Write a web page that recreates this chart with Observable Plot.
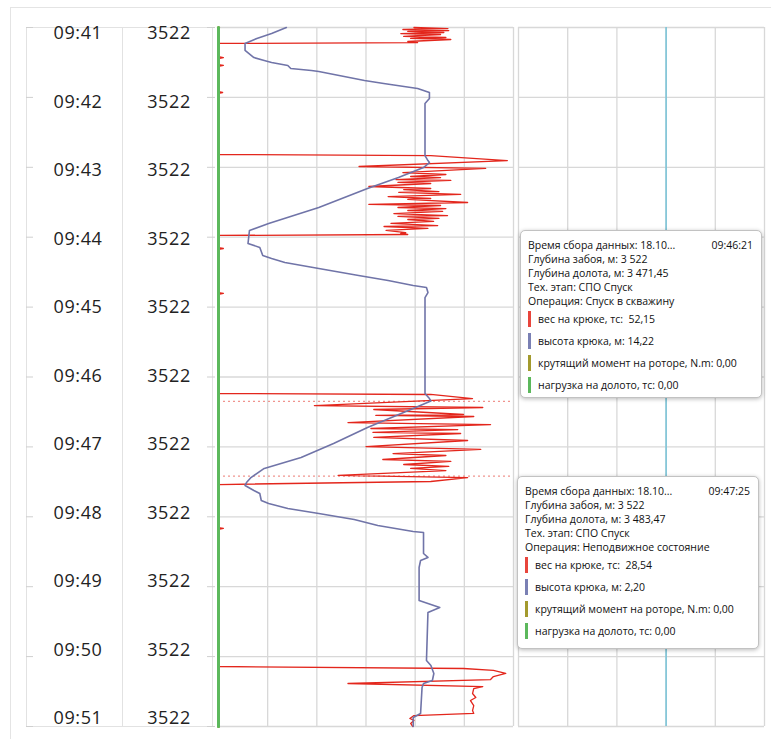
<!DOCTYPE html>
<html>
<head>
<meta charset="utf-8">
<script src="https://cdn.jsdelivr.net/npm/d3@7"></script>
<script src="https://cdn.jsdelivr.net/npm/@observablehq/plot@0.6"></script>
<style>
html,body{margin:0;padding:0;background:#fff;}
#root{position:relative;width:771px;height:739px;overflow:hidden;font-family:"Open Sans",sans-serif;}
.abs{position:absolute;line-height:0;}
.lbl text{letter-spacing:0.6px;}
.card{position:absolute;left:10px;top:7px;width:770px;height:740px;border-left:1px solid #e4e4e4;border-top:1px solid #e4e4e4;}
.col{position:absolute;top:27px;height:700px;border:1px solid #e2e2e2;box-sizing:border-box;}
.tip{position:absolute;background:#fff;border:1px solid #c2c2c2;border-radius:5px;box-shadow:0 1px 4px rgba(0,0,0,.28);box-sizing:border-box;padding:7px 8px 0 7px;font-size:10.5px;color:#111;line-height:14px;white-space:nowrap;}
.tip .hdr{display:flex;justify-content:space-between;}
.tip .row{display:flex;align-items:center;height:22px;}
.tip .bar{width:3px;height:16px;margin-right:7px;flex:none;}
</style>
</head>
<body>
<div id="root">
  <div class="card"></div>
  <div class="col" style="left:26px;width:97px;"></div>
  <div class="col" style="left:122px;width:91px;"></div>
</div>
<script>
// ---- labels ----
const timeLabels = ["09:41","09:42","09:43","09:44","09:45","09:46","09:47","09:48","09:49","09:50","09:51"];
const depthLabels = ["3522","3522","3522","3522","3522","3522","3522","3522","3522","3522","3522"];
const minuteSeconds = [0,60,120,180,240,300,360,420,480,540,600];

// ---- hook weight (вес на крюке, тс): seconds after 09:41:00 ----
const redT = [0,0.9,1.7,2.6,3.4,4.3,5.2,6.0,7.7,8.6,9.4,10.3,12.0,12.9,13.7,
  25.0,25.8,26.6,31.8,32.6,33.4,55.0,55.8,56.6,
  109.0,109.9,114.2,119.3,121.0,
  124.5,126.2,127.9,128.8,130.5,131.3,133.0,133.9,136.5,138.2,139.1,140.8,141.6,143.3,145.1,146.8,147.6,150.2,151.9,152.8,154.5,155.4,157.1,157.9,159.7,161.4,162.2,163.9,164.8,166.5,168.2,170.0,170.8,172.5,174.2,176.0,176.8,177.7,178.5,
  189.0,189.7,190.5,227.5,228.3,229.1,
  314.2,315.0,318.5,324.5,326.2,327.9,332.2,333.0,333.9,339.1,340.8,344.2,345.1,347.6,348.5,351.9,354.5,359.7,362.2,365.7,367.4,370.8,372.5,375.1,376.8,378.5,380.3,384.5,386.3,389.7,392.3,
  429.2,430.0,430.8,
  548.5,550.2,551.9,554.5,557.1,559.7,563.1,565.7,567.4,571.7,575.1,577.7,582.0,586.3,588.8,590.6,593.1,594.8,597.4,600];
const redW = [47.7,56.0,45.0,56.2,46.2,55.0,44.5,54.2,45.2,55.5,46.9,56.7,46.2,48.6,0,
  0,1.2,0,0,1.2,0,0,1.0,0,
  0,51.8,70.5,34.3,65.2,
  45.0,55.5,46.9,54.2,43.3,56.7,43.8,51.8,36.7,51.8,45.2,53.8,44.0,59.1,41.4,51.8,46.2,60.8,36.7,54.2,43.8,55.5,46.2,54.7,42.8,55.9,43.8,53.8,46.2,52.5,42.1,53.5,40.4,51.1,40.9,45.7,44.5,46.2,0,
  0,1.2,0,0,1.2,0,
  0,51.8,62.0,23.4,64.5,37.9,59.8,38.4,62.3,31.6,66.4,37.2,58.4,37.7,59.1,37.9,60.8,36.0,64.0,42.6,55.5,40.1,56.7,45.2,56.2,46.9,55.5,29.2,60.8,51.8,0,
  0,1.2,0,
  0,59.8,67.1,70.1,67.1,66.4,31.6,64.5,62.3,62.0,62.8,61.5,62.3,62.0,62.3,47.7,46.7,47.7,46.9,47.4];

// ---- hook height (высота крюка, м) ----
const blueT = [0,5.2,9.4,13.7,19.7,25.8,28.3,30.0,32.6,35.2,36.9,37.8,45.5,48.1,52.4,55.8,60.9,65.2,109.9,114.2,115.9,120.2,128.8,138.2,154.5,168.2,174.2,185.4,188.8,195.7,198.3,201.7,206.9,212.9,217.2,221.5,223.2,227.5,231.8,314.2,318.5,320.6,327.0,343.3,357.1,369.1,378.5,386.3,390.6,393.1,397.4,400.0,406.0,408.6,412.9,417.2,422.3,427.5,432.6,433.5,451.5,454.9,457.5,463.5,491.8,494.4,497.9,502.1,543.3,547.6,554.5,560.5,563.1,566.5,588.8,592.3,600];
const blueH = [4.6,3.6,2.6,1.8,1.8,2.4,3.1,3.6,4.7,4.9,6.3,6.8,9.9,11.2,13.5,14.3,14.3,14.0,14.0,14.2,14.3,13.9,12.2,10.1,6.8,3.4,2.1,2.0,2.8,3.0,3.6,4.5,6.8,9.5,11.5,13.2,14.1,14.2,14.0,14.0,14.3,14.4,13.2,10.1,7.8,5.6,3.1,2.2,1.9,1.8,2.4,2.8,2.9,3.4,4.7,6.8,9.2,10.8,13.2,13.9,13.9,14.2,13.7,13.6,13.6,14.2,15.0,14.2,14.1,14.4,14.6,14.5,13.9,13.8,13.7,13.2,13.2];

// ---- torque / bit load (zero) ----
const torqueT = [0,600], torqueV = [0,0];
const bitLoadT = [0,600], bitLoadV = [0,0];

const hookWeightTicks = [0,12,24,36,48,60,72];
const hookHeightDomain = [0,20];
const track2Ticks = [0,20,40,60,80,100];
const track2Marker = [60];
const tipSeconds = [321,385];

// ---- tooltips ----
const tipDate = ["18.10...","18.10..."];
const tipClock = ["09:46:21","09:47:25"];
const tipHoleDepth = ["3 522","3 522"];
const tipBitDepth = ["3 471,45","3 483,47"];
const tipStage = ["СПО Спуск","СПО Спуск"];
const tipOperation = ["Спуск в скважину","Неподвижное состояние"];
const tipHookWeight = ["52,15","28,54"];
const tipHookHeight = ["14,22","2,20"];
const tipTorque = ["0,00","0,00"];
const tipBitLoad = ["0,00","0,00"];

const root = document.getElementById("root");
const st = {background:"transparent", overflow:"visible"};
function place(svg, left, top, cls){
  const d = document.createElement("div");
  d.className = "abs" + (cls ? " " + cls : ""); d.style.left = left+"px"; d.style.top = top+"px";
  d.appendChild(svg); root.appendChild(d);
}
const GRID = "#d8d8d8";

// label columns
place(Plot.plot({width:97,height:700,margin:0,style:st,
  x:{axis:null,domain:[0,1]}, y:{domain:[0,600],range:[6,691],axis:null},
  marks:[Plot.text(timeLabels,{y:(d,i)=>minuteSeconds[i],text:d=>d,fontSize:18,fontWeight:500,fill:"#222",fontFamily:"Open Sans",dx:3})]
}),26,27,"lbl");
place(Plot.plot({width:91,height:700,margin:0,style:st,
  x:{axis:null,domain:[0,1]}, y:{domain:[0,600],range:[6,691],axis:null},
  marks:[Plot.text(depthLabels,{y:(d,i)=>minuteSeconds[i],text:d=>d,fontSize:18,fontWeight:500,fill:"#222",fontFamily:"Open Sans",dx:1})]
}),122,27,"lbl");
// small ticks
place(Plot.plot({width:7,height:699,margin:0,style:st,
  y:{domain:[0,600],reverse:true,axis:null},
  marks:[Plot.tickY(minuteSeconds,{y:d=>d,stroke:"#cfcfcf"})]}),26,27);
place(Plot.plot({width:8,height:699,margin:0,style:st,
  y:{domain:[0,600],reverse:true,axis:null},
  marks:[Plot.tickY(minuteSeconds,{y:d=>d,stroke:"#cfcfcf"})]}),207,27);

// track 1: grid + hook weight
const redIdx = d3.range(redT.length);
place(Plot.plot({width:295,height:699,margin:0,style:st,
  x:{domain:[0,72],axis:null}, y:{domain:[0,600],reverse:true,axis:null},
  marks:[
    Plot.ruleX(hookWeightTicks,{stroke:GRID,strokeWidth:1.3}),
    Plot.ruleY(minuteSeconds,{stroke:GRID,strokeWidth:1.3}),
    Plot.ruleY(tipSeconds,{stroke:"#f0948e",strokeDasharray:"2,3",strokeWidth:1.2}),
    Plot.line(redIdx,{x:i=>redW[i],y:i=>redT[i],stroke:"#e3261c",strokeWidth:1.3})
  ]}),218,27);
// track 1 overlay: torque, bit load, hook height
const blueIdx = d3.range(blueT.length);
place(Plot.plot({width:295,height:699,margin:0,style:st,
  x:{domain:hookHeightDomain,axis:null}, y:{domain:[0,600],reverse:true,axis:null},
  marks:[
    Plot.line(d3.range(2),{x:i=>torqueV[i],y:i=>torqueT[i],stroke:"#a39a2e",strokeWidth:3}),
    Plot.line(d3.range(2),{x:i=>bitLoadV[i],y:i=>bitLoadT[i],stroke:"#5cb85c",strokeWidth:3}),
    Plot.line(blueIdx,{x:i=>blueH[i],y:i=>blueT[i],stroke:"#7074a8",strokeWidth:1.6})
  ]}),218,27);
// track 2
place(Plot.plot({width:246,height:699,margin:0,style:st,
  x:{domain:[0,100],axis:null}, y:{domain:[0,600],reverse:true,axis:null},
  marks:[
    Plot.ruleX(track2Ticks,{stroke:GRID,strokeWidth:1.3}),
    Plot.ruleY(minuteSeconds,{stroke:GRID,strokeWidth:1.3}),
    Plot.ruleX(track2Marker,{stroke:"#7cc5d8",strokeWidth:1.6})
  ]}),518,27);

// tooltips
const tipBoxes = [{left:520,top:230,w:242,h:168},{left:517,top:476,w:242,h:173}];
const legendColors = ["#e8453c","#7a80b4","#a39a2e","#5cb85c"];
tipBoxes.forEach((b,i)=>{
  const d = document.createElement("div");
  d.className = "tip";
  Object.assign(d.style,{left:b.left+"px",top:b.top+"px",width:b.w+"px",height:b.h+"px"});
  const rows = [
    "вес на крюке, тс:&nbsp; " + tipHookWeight[i],
    "высота крюка, м: " + tipHookHeight[i],
    "крутящий момент на роторе, N.m: " + tipTorque[i],
    "нагрузка на долото, тс: " + tipBitLoad[i]
  ];
  d.innerHTML =
    `<div class="hdr"><span>Время сбора данных: ${tipDate[i]}</span><span>${tipClock[i]}</span></div>` +
    `<div>Глубина забоя, м: ${tipHoleDepth[i]}</div>` +
    `<div>Глубина долота, м: ${tipBitDepth[i]}</div>` +
    `<div>Тех. этап: ${tipStage[i]}</div>` +
    `<div>Операция: ${tipOperation[i]}</div>` +
    rows.map((r,k)=>`<div class="row"><span class="bar" style="background:${legendColors[k]}"></span><span>${r}</span></div>`).join("");
  root.appendChild(d);
});
</script>
</body>
</html>
